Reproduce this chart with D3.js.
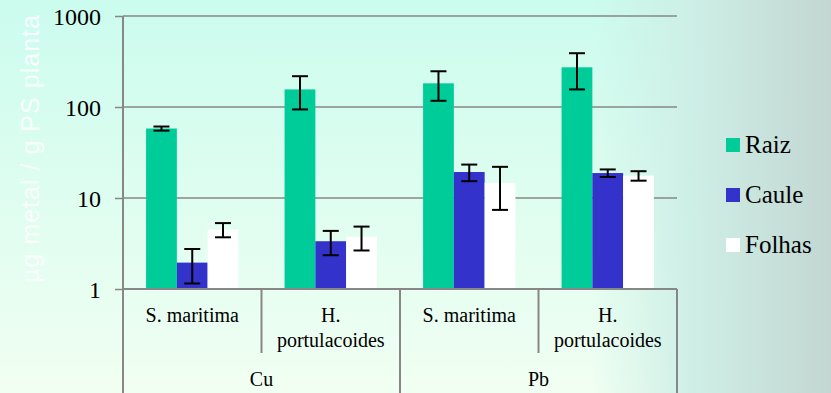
<!DOCTYPE html>
<html lang="pt">
<head>
  <meta charset="UTF-8" />
  <title>Metal por planta</title>
  <script src="https://d3js.org/d3.v7.min.js"></script>
  <style>
    body { margin:0; padding:0; overflow:hidden; }
    svg { display:block; }
  </style>
</head>
<body>
  <svg id="chart" width="831" height="393"></svg>

  <script>
  // data
  const metals   = ["Cu", "Pb"];
  const species  = ["S. maritima", "H. portulacoides"];
  const series   = ["Raiz", "Caule", "Folhas"];
  const colors   = ["#00cc99", "#3333cc", "#ffffff"];
  const yTicks   = [1, 10, 100, 1000];

  // means per group (Cu S.m, Cu H.p, Pb S.m, Pb H.p)
  const raiz    = [58, 156, 182, 273];
  const caule   = [1.95, 3.35, 19.3, 18.8];
  const folhas  = [4.5, 3.75, 14.7, 17.6];
  // standard deviations
  const raizSd   = [3, 62, 65, 117];
  const cauleSd  = [0.8, 1.0, 4.0, 1.8];
  const folhasSd = [0.8, 1.1, 7.3, 2.1];

  (function(){
  const W = 831, H = 393;
  const mLeft = 123, mRight = 677, mTop = 16, base = 289;

  const svg = d3.select('#chart');
  const defs = svg.append('defs');

  // background: vertical mint gradient + greyish teal fading in at right
  const vg = defs.append('linearGradient').attr('id','bgV')
    .attr('x1',0).attr('y1',0).attr('x2',0).attr('y2',1);
  vg.append('stop').attr('offset','0%').attr('stop-color','#cbfcee');
  vg.append('stop').attr('offset','100%').attr('stop-color','#f1fff2');

  const hg = defs.append('linearGradient').attr('id','bgH')
    .attr('gradientUnits','userSpaceOnUse')
    .attr('x1',0).attr('y1',0).attr('x2',W).attr('y2',0);
  hg.append('stop').attr('offset', 590/W).attr('stop-color','#cdeee6').attr('stop-opacity',0);
  hg.append('stop').attr('offset', 690/W).attr('stop-color','#cdeee6').attr('stop-opacity',0.95);
  hg.append('stop').attr('offset', 1).attr('stop-color','#c3d6d2').attr('stop-opacity',1);

  svg.append('rect').attr('width',W).attr('height',H).attr('fill','url(#bgV)');
  svg.append('rect').attr('width',W).attr('height',H).attr('fill','url(#bgH)');

  // y axis title (faint white)
  svg.append('text')
    .attr('transform', `translate(39,${(15+283)/2}) rotate(-90)`)
    .attr('text-anchor','middle')
    .attr('font-family','"Liberation Sans", Arial, sans-serif')
    .attr('font-size',25)
    .attr('textLength',268)
    .attr('lengthAdjust','spacing')
    .attr('fill','#ffffff')
    .attr('fill-opacity',0.85)
    .text('µg metal / g PS planta');

  // scales
  const groups = [];
  metals.forEach(m => species.forEach(s => groups.push(m + '|' + s)));

  const x0 = d3.scaleBand().domain(groups).range([mLeft, mRight]).padding(0);
  const x1 = d3.scaleBand().domain(series).range([0, x0.bandwidth()])
    .paddingInner(0).paddingOuter(0.75);
  const y = d3.scaleLog().domain([1, 1000]).range([base, mTop]);

  // gridlines
  svg.append('g').selectAll('line').data(yTicks.slice(1)).enter().append('line')
    .attr('x1', mLeft).attr('x2', mRight)
    .attr('y1', d => y(d)).attr('y2', d => y(d))
    .attr('stroke','#878787').attr('stroke-width',1.5);

  // bars
  const values = [raiz, caule, folhas];
  const sds = [raizSd, cauleSd, folhasSd];
  const bars = [];
  groups.forEach((g, gi) => series.forEach((s, si) => {
    bars.push({ g, s, color: colors[si], v: values[si][gi], sd: sds[si][gi] });
  }));

  svg.append('g').selectAll('rect').data(bars).enter().append('rect')
    .attr('x', d => x0(d.g) + x1(d.s))
    .attr('y', d => y(d.v))
    .attr('width', x1.bandwidth())
    .attr('height', d => base - y(d.v))
    .attr('fill', d => d.color);

  // error bars
  const eb = svg.append('g').attr('stroke','#000').attr('stroke-width',2).attr('fill','none');
  bars.forEach(d => {
    const cx = x0(d.g) + x1(d.s) + x1.bandwidth()/2;
    const yHi = y(d.v + d.sd), yLo = y(Math.max(d.v - d.sd, 1));
    eb.append('line').attr('x1',cx).attr('x2',cx).attr('y1',yHi).attr('y2',yLo);
    eb.append('line').attr('x1',cx-8).attr('x2',cx+8).attr('y1',yHi).attr('y2',yHi);
    eb.append('line').attr('x1',cx-8).attr('x2',cx+8).attr('y1',yLo).attr('y2',yLo);
  });

  const serif = '"Liberation Serif", "Times New Roman", serif';

  // y axis
  const yAxis = svg.append('g')
    .attr('transform', `translate(${mLeft},0)`)
    .call(d3.axisLeft(y).tickValues(yTicks).tickFormat(d3.format('d')).tickSize(8).tickPadding(14));
  yAxis.select('.domain').remove();
  yAxis.selectAll('line').attr('stroke','#878787').attr('stroke-width',1.5);
  yAxis.selectAll('text')
    .attr('font-family', serif)
    .attr('font-size',24)
    .attr('fill','#000')
    .attr('dy','0.34em');

  const ax = svg.append('g').attr('stroke', '#878787').attr('stroke-width',2);
  // left axis line (runs to the bottom)
  ax.append('line').attr('x1',mLeft).attr('x2',mLeft).attr('y1',mTop).attr('y2',H);
  // bottom axis
  ax.append('line').attr('x1',mLeft).attr('x2',mRight).attr('y1',base).attr('y2',base);
  // dividers
  groups.forEach((g, i) => {
    if (i === 0) return;
    const xx = x0(g);
    const long = species.indexOf(g.split('|')[1]) === 0;
    ax.append('line').attr('x1',xx).attr('x2',xx).attr('y1',base).attr('y2', long ? H : 353);
  });
  ax.append('line').attr('x1',mRight).attr('x2',mRight).attr('y1',base).attr('y2',H);

  // species labels
  groups.forEach(g => {
    const cx = x0(g) + x0.bandwidth()/2;
    const sp = g.split('|')[1];
    const words = sp.split(' ');
    const t = svg.append('text').attr('text-anchor','middle')
      .attr('font-family', serif).attr('font-size',20).attr('fill','#000');
    if (sp.startsWith('S.')) {
      t.append('tspan').attr('x',cx).attr('y',322).text(sp);
    } else {
      t.append('tspan').attr('x',cx).attr('y',322).text(words[0]);
      t.append('tspan').attr('x',cx).attr('y',347).text(words[1]);
    }
  });

  // metal labels
  metals.forEach(m => {
    const cx = x0(m + '|' + species[0]) + x0.bandwidth();
    svg.append('text').attr('x',cx).attr('y',386).attr('text-anchor','middle')
      .attr('font-family', serif).attr('font-size',20).attr('fill','#000').text(m);
  });

  // legend
  const lg = svg.append('g');
  series.forEach((s, i) => {
    const yy = 153 + i*50;
    lg.append('rect').attr('x',726).attr('y',yy-15).attr('width',14).attr('height',14).attr('fill',colors[i]);
    lg.append('text').attr('x',745).attr('y',yy)
      .attr('font-family', serif).attr('font-size',25).attr('fill','#000').text(s);
  });
  })();
  </script>
</body>
</html>
